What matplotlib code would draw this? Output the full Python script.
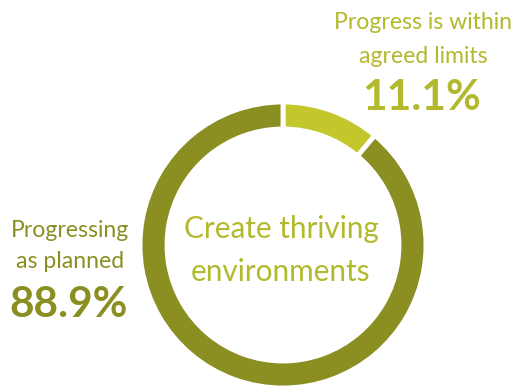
import matplotlib
matplotlib.use("Agg")
import matplotlib.pyplot as plt

# Share of actions by status
categories = ["Progress is within\nagreed limits", "Progressing\nas planned"]
shares = [11.1, 88.9]
colors = ["#c4c72b", "#8b8f22"]
title = ["Create thriving", "environments"]

plt.rcParams["font.family"] = ["Lato", "DejaVu Sans"]

W, H = 517, 390
fig = plt.figure(figsize=(W / 100, H / 100), dpi=100)
ax = fig.add_axes([0, 0, 1, 1])

cx, cy, r = 283, H - 245, 143
ax.pie(shares, colors=colors, startangle=90, counterclock=False,
       center=(cx, cy), radius=r, frame=True,
       wedgeprops=dict(width=27, edgecolor="white", linewidth=3.5))
ax.set_xlim(0, W)
ax.set_ylim(0, H)
ax.set_aspect("equal")
ax.axis("off")

light_txt = "#b3b92c"
dark_txt = "#8b8f22"
label_fs = 16.6
value_fs = 30.5

# top-right label (small segment)
top_lines = categories[0].split("\n")
ax.text(423, H - 29, top_lines[0], ha="center", va="baseline", fontsize=label_fs, color=light_txt)
ax.text(423, H - 63, top_lines[1], ha="center", va="baseline", fontsize=label_fs, color=light_txt)
ax.text(422, H - 110, f"{shares[0]:.1f}%", ha="center", va="baseline", fontsize=value_fs,
        fontweight="bold", color=light_txt)

# left label (large segment)
left_lines = categories[1].split("\n")
ax.text(70, H - 237, left_lines[0], ha="center", va="baseline", fontsize=label_fs, color=dark_txt)
ax.text(70, H - 268, left_lines[1], ha="center", va="baseline", fontsize=label_fs, color=dark_txt)
ax.text(69, H - 317, f"{shares[1]:.1f}%", ha="center", va="baseline", fontsize=value_fs,
        fontweight="bold", color=dark_txt)

# centre title
ax.text(281, H - 238, title[0], ha="center", va="baseline", fontsize=21.4, color=light_txt)
ax.text(281, H - 281, title[1], ha="center", va="baseline", fontsize=21.4, color=light_txt)

fig.savefig("out.png", dpi=100, facecolor="white")
